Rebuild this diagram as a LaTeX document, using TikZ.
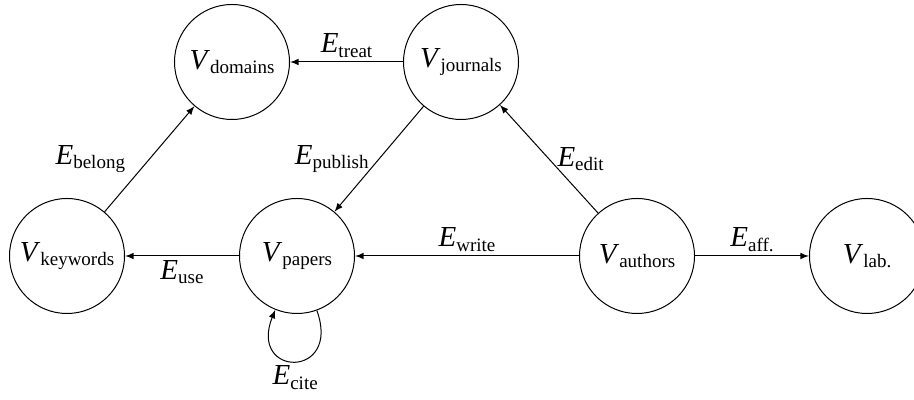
\documentclass[tikz,border=0pt]{standalone}
\usepackage{fontspec}
\setmainfont{Liberation Serif}
\usepackage{tikz}
\usetikzlibrary{arrows}

\newcommand{\sym}[2]{\textit{#1}\raisebox{-2.2pt}{\fontsize{9.5}{10}\selectfont #2}}

\begin{document}
\begin{tikzpicture}[x=0.5pt, y=0.5pt, >=latex,
	vset/.style={draw, circle, line width=0.5pt, minimum size=57.5pt, inner sep=0pt, font=\fontsize{14.5}{16}\selectfont},
	rel/.style={font=\fontsize{14.5}{16}\selectfont, inner sep=2pt}]
\useasboundingbox (0,0) rectangle (914,400);
\node[vset] (dom) at (232,338) {\sym{V}{domains}};
\node[vset] (jou) at (461,338) {\sym{V}{journals}};
\node[vset] (key) at (67,144) {\sym{V}{keywords}};
\node[vset] (pap) at (297,144) {\sym{V}{papers}};
\node[vset] (aut) at (637,144) {\sym{V}{authors}};
\node[vset] (lab) at (867,144) {\sym{V}{lab.}};
\path[->, line width=0.5pt]
(jou) edge node [rel, left, pos=0.5, xshift=-3pt] {\sym{E}{publish}} (pap)
edge node [rel, above] {\sym{E}{treat}} (dom)
(aut) edge node [rel, right, pos=0.5, xshift=2pt] {\sym{E}{edit}} (jou)
edge node [rel, above] {\sym{E}{write}} (pap)
edge node [rel, above] {\sym{E}{aff.}} (lab)
(pap) edge node [rel, below] {\sym{E}{use}} (key)
edge [out=-70, in=-112, looseness=4.5] node [rel, below] {\sym{E}{cite}} (pap)
(key) edge node [rel, left, pos=0.5, xshift=-10pt] {\sym{E}{belong}} (dom)
;
\end{tikzpicture}
\end{document}
